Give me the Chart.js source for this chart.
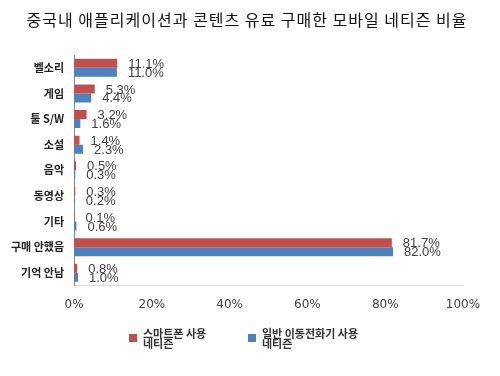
<!DOCTYPE html>
<html>
<head>
<meta charset="utf-8">
<script src="https://cdn.jsdelivr.net/npm/chart.js@4"></script>
<style>
  html, body { margin: 0; padding: 0; background: #fff; }
  #wrap { width: 500px; height: 376px; }
</style>
</head>
<body>
<div id="wrap"><canvas id="chart" width="500" height="376"></canvas></div>
<script>
const categories = ["벨소리", "게임", "툴 S/W", "소설", "음악", "동영상", "기타", "구매 안했음", "기억 안남"];
const smartphone = [11.1, 5.3, 3.2, 1.4, 0.5, 0.3, 0.1, 81.7, 0.8];
const featurePhone = [11.0, 4.4, 1.6, 2.3, 0.3, 0.2, 0.6, 82.0, 1.0];
const seriesNames = [["스마트폰 사용", "네티즌"], ["일반 이동전화기 사용", "네티즌"]];
const xTicks = [0, 20, 40, 60, 80, 100];
const titleText = "중국내 애플리케이션과 콘텐츠 유료 구매한 모바일 네티즌 비율";

const KR = "'Noto Sans CJK KR', sans-serif";
const RED = "#C0504D";
const BLUE = "#4F81BD";

// title drawn by hand so it can be letter-spaced like the original
const titleDraw = {
  id: "titleDraw",
  afterDraw(chart) {
    const c = chart.ctx;
    c.save();
    c.font = "16px " + KR;
    c.letterSpacing = "1px";
    c.fillStyle = "#111";
    c.textAlign = "center";
    c.textBaseline = "middle";
    c.fillText(titleText, 247, 20);
    c.restore();
  }
};

// value labels next to each bar end
const barLabels = {
  id: "barLabels",
  afterDatasetsDraw(chart) {
    const c = chart.ctx;
    c.save();
    c.font = "13px 'Liberation Sans', sans-serif";
    c.fillStyle = "#404040";
    c.textBaseline = "middle";
    chart.data.datasets.forEach((ds, i) => {
      chart.getDatasetMeta(i).data.forEach((bar, j) => {
        const shift = i === 0 ? 1 : 1;
        c.fillText(ds.data[j].toFixed(1) + "%", bar.x + 11, bar.y + shift);
      });
    });
    c.restore();
  }
};

// two-line legend under the axis
const legendBelow = {
  id: "legendBelow",
  afterDraw(chart) {
    const c = chart.ctx;
    c.save();
    c.font = "bold 11px " + KR;
    c.textBaseline = "middle";
    const spots = [133, 252];
    chart.data.datasets.forEach((ds, i) => {
      const x = spots[i];
      c.fillStyle = ds.backgroundColor;
      c.fillRect(x - 4, 338 - 4, 8, 8);
      c.fillStyle = "#333";
      seriesNames[i].forEach((line, k) => {
        c.fillText(line, x + 10, 334 + k * 10);
      });
    });
    c.restore();
  }
};

new Chart(document.getElementById("chart").getContext("2d"), {
  type: "bar",
  data: {
    labels: categories,
    datasets: [
      { label: seriesNames[0].join(" "), data: smartphone, backgroundColor: RED },
      { label: seriesNames[1].join(" "), data: featurePhone, backgroundColor: BLUE }
    ]
  },
  options: {
    indexAxis: "y",
    responsive: false,
    animation: false,
    layout: { padding: { left: 1, right: 37, top: 55, bottom: 52 } },
    datasets: { bar: { categoryPercentage: 0.7, barPercentage: 1 } },
    scales: {
      x: {
        min: 0,
        max: 100,
        afterBuildTicks(axis) {
          axis.ticks = xTicks.map(v => ({ value: v }));
        },
        grid: { display: false, drawTicks: false },
        border: { display: true, color: "#d9d9d9" },
        ticks: {
          padding: 12,
          color: "#404040",
          font: { family: "'DejaVu Sans', sans-serif", size: 12 },
          callback: v => v + "%"
        }
      },
      y: {
        grid: { display: false, drawTicks: false },
        border: { display: true, color: "#868686" },
        ticks: {
          padding: 10,
          color: "#222",
          font: { family: KR, size: 11, weight: "bold" }
        }
      }
    },
    plugins: {
      legend: { display: false },
      tooltip: { enabled: false },
      title: { display: false }
    }
  },
  plugins: [titleDraw, barLabels, legendBelow]
});
</script>
</body>
</html>
